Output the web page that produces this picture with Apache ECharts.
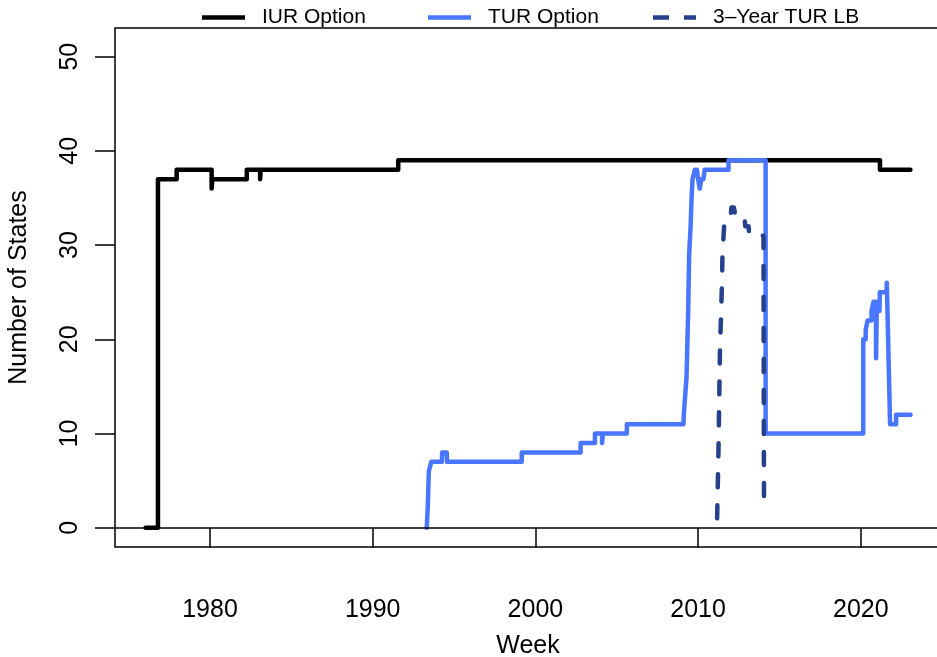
<!DOCTYPE html>
<html>
<head>
<meta charset="utf-8">
<script src="https://cdn.jsdelivr.net/npm/echarts@6/dist/echarts.min.js"></script>
<style>
  html, body { margin: 0; padding: 0; background: #fff; }
  #chart { width: 937px; height: 657px; }
</style>
</head>
<body>
<div id="chart"></div>
<script>
// ---- data ----
const seriesNames = ['IUR Option', 'TUR Option', '3\u2013Year TUR LB'];

const iurYears  = [1976.04, 1976.8, 1976.8, 1977.95, 1977.95, 1980.1, 1980.1, 1980.14, 1980.14, 1982.26, 1982.26, 1983.08, 1983.08, 1983.11, 1983.11, 1991.57, 1991.57, 2021.18, 2021.18, 2023.05];
const iurValues = [0, 0, 37, 37, 38, 38, 36, 36, 37, 37, 38, 38, 37, 37, 38, 38, 39, 39, 38, 38];

const turYears  = [1993.32, 1993.38, 1993.45, 1993.6, 1994.25, 1994.27, 1994.55, 1994.57, 1999.16, 1999.16, 2002.78, 2002.78, 2003.66, 2003.66, 2004.1, 2004.1, 2004.15, 2004.15, 2005.62, 2005.62,
                   2009.1, 2009.12, 2009.19, 2009.29, 2009.39, 2009.45, 2009.54, 2009.6, 2009.66, 2009.8, 2009.93, 2010.0, 2010.1, 2010.2, 2010.33, 2010.4, 2011.87, 2011.87, 2014.15, 2014.15,
                   2020.15, 2020.15, 2020.3, 2020.3, 2020.42, 2020.42, 2020.66, 2020.66, 2020.78, 2020.78, 2020.93, 2020.94, 2020.97, 2020.98, 2021.15, 2021.17, 2021.58, 2021.6, 2021.7, 2021.8, 2022.17, 2022.17, 2023.06];
const turValues = [0, 2, 6, 7, 7, 8, 8, 7, 7, 8, 8, 9, 9, 10, 10, 9, 9, 10, 10, 11,
                   11, 12, 12, 16, 23, 29, 32, 35, 37, 38, 38, 37, 36, 37, 37, 38, 38, 39, 39, 10,
                   10, 20, 20, 21, 21, 22, 22, 23, 23, 24, 24, 18, 18, 23, 23, 25, 25, 26, 26, 11, 11, 12, 12];

const lbYears  = [2011.17, 2011.25, 2011.34, 2011.46, 2011.5, 2011.6, 2011.75, 2012.0, 2012.05, 2012.2, 2012.3, 2012.85, 2012.9, 2013.1, 2013.15, 2014.02, 2014.05];
const lbValues = [1, 8, 18.5, 25.5, 29, 32, 33, 33, 34, 34, 33, 33, 32, 32, 31, 31, 2];

const xTickLabels = [1980, 1990, 2000, 2010, 2020];
const yTickLabels = [0, 10, 20, 30, 40, 50];

// ---- build ----
const pairs = (xs, ys) => xs.map((x, i) => [x, ys[i]]);
const FONT = 'Liberation Sans, Arial, Helvetica, sans-serif';
const colors = ['#000000', '#4876FF', '#27408B'];

const solidIcon  = 'path://M0,0h43v4.5h-43z';
const dashedIcon = 'path://M0,0h16v4.5h-16z M31,0h12v4.5h-12z';

const chart = echarts.init(document.getElementById('chart'), null, { renderer: 'canvas' });

function legendAt(left, name, icon) {
  return {
    show: true,
    data: [{ name: name, icon: icon }],
    left: left,
    top: 2,
    itemWidth: 43,
    itemHeight: 4.5,
    itemGap: 0,
    selectedMode: false,
    textStyle: { fontFamily: FONT, fontSize: 21, color: '#000', padding: [0, 0, 0, 12] }
  };
}

const option = {
  animation: false,
  backgroundColor: '#fff',
  legend: [
    legendAt(197, seriesNames[0], solidIcon),
    legendAt(423, seriesNames[1], solidIcon),
    legendAt(648, seriesNames[2], dashedIcon)
  ],
  grid: {
    left: 115, top: 28, width: 826, height: 519,
    show: true, borderColor: '#000', borderWidth: 1.5, backgroundColor: 'transparent',
    containLabel: false,
    outerBoundsMode: 'none'
  },
  xAxis: {
    type: 'value',
    min: 1974.16, max: 2024.93,
    splitLine: { show: false },
    axisLine: { show: false },
    axisTick: { show: true, length: 20, inside: false, customValues: xTickLabels, lineStyle: { color: '#000', width: 1.5 } },
    axisLabel: { show: true, customValues: xTickLabels, margin: 51, fontFamily: FONT, fontSize: 25, color: '#000',
                 formatter: v => String(Math.round(v)) },
    name: 'Week', nameLocation: 'middle', nameGap: 87,
    nameTextStyle: { fontFamily: FONT, fontSize: 25, color: '#000' }
  },
  yAxis: {
    type: 'value',
    min: -2.04, max: 53.04,
    splitLine: { show: false },
    axisLine: { show: false },
    axisTick: { show: true, length: 20, inside: false, customValues: yTickLabels, lineStyle: { color: '#000', width: 1.5 } },
    axisLabel: { show: true, customValues: yTickLabels, rotate: 90, margin: 32, fontFamily: FONT, fontSize: 25, color: '#000',
                 formatter: v => String(Math.round(v)) },
    name: 'Number of States', nameLocation: 'middle', nameGap: 83, nameRotate: 90,
    nameTextStyle: { fontFamily: FONT, fontSize: 25, color: '#000' }
  },
  series: [
    {
      name: seriesNames[0], type: 'line', data: pairs(iurYears, iurValues),
      symbol: 'none', smooth: false, color: colors[0],
      lineStyle: { color: colors[0], width: 4.5, cap: 'round', join: 'round' },
      markLine: {
        silent: true, symbol: 'none', label: { show: false },
        lineStyle: { color: '#000', width: 1.5, type: 'solid' },
        data: [{ yAxis: 0 }]
      },
      z: 2
    },
    {
      name: seriesNames[1], type: 'line', data: pairs(turYears, turValues),
      symbol: 'none', smooth: false, color: colors[1],
      lineStyle: { color: colors[1], width: 4.5, cap: 'round', join: 'round' },
      z: 3
    },
    {
      name: seriesNames[2], type: 'line', data: pairs(lbYears, lbValues),
      symbol: 'none', smooth: false, color: colors[2],
      lineStyle: { color: colors[2], width: 4.5, type: [13, 18], cap: 'round', join: 'round' },
      z: 4
    }
  ]
};

chart.setOption(option);
</script>
</body>
</html>
